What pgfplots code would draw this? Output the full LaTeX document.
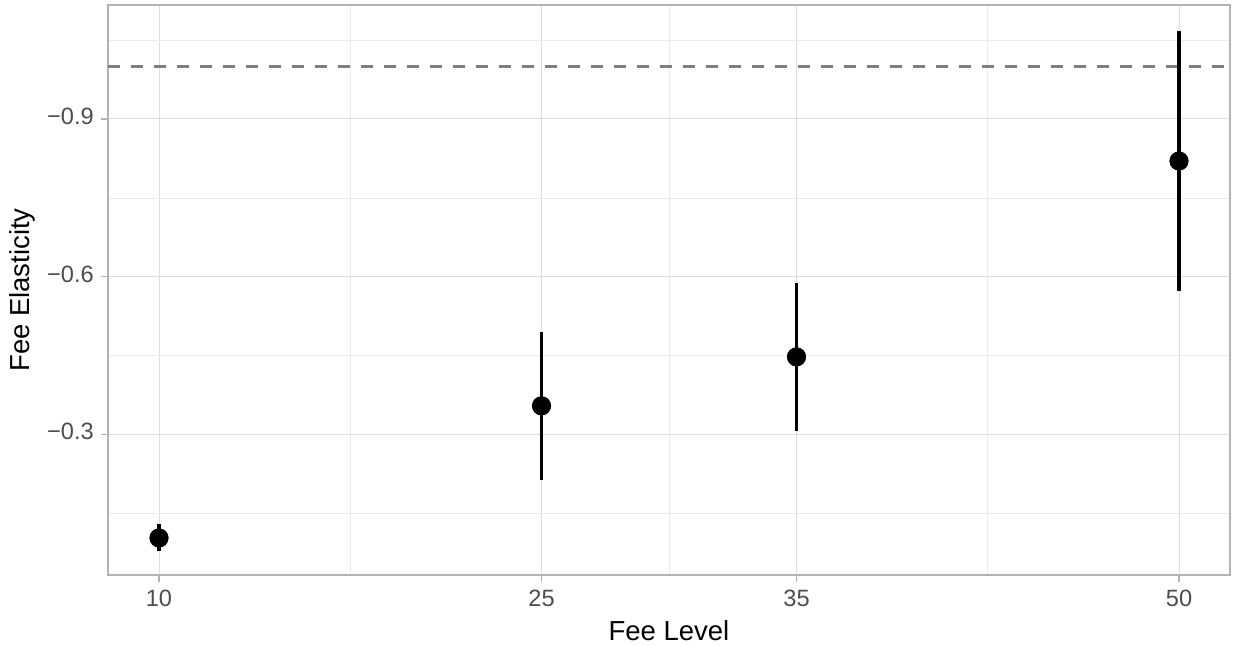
\documentclass[border=0pt]{standalone}
\usepackage{pgfplots}
\pgfplotsset{compat=1.18}
\usepackage{fontspec}
\setmainfont{Liberation Sans}
\definecolor{gridmaj}{HTML}{DEDEDE}
\definecolor{gridmin}{HTML}{EBEBEB}
\definecolor{frame}{HTML}{B3B3B3}
\definecolor{ticklab}{HTML}{4D4D4D}
\definecolor{dashc}{HTML}{7F7F7F}
\begin{document}
\begin{tikzpicture}
\useasboundingbox (-54pt,-35pt) rectangle (563.5pt,287.5pt);
\begin{axis}[
  at={(0,0)}, anchor=south west,
  scale only axis,
  width=561pt, height=285pt,
  xmin=8, xmax=52,
  ymin=-1.1164, ymax=-0.0336,
  y dir=reverse,
  xtick={10,25,35,50},
  xticklabels={10,25,35,50},
  ytick={-0.9,-0.6,-0.3},
  yticklabels={−0.9,−0.6,−0.3},
  minor xtick={17.5,30,42.5},
  minor ytick={-1.05,-0.75,-0.45,-0.15},
  xtick pos=bottom, ytick pos=left,
  grid=both,
  major grid style={draw=gridmaj, line width=0.5pt},
  minor grid style={draw=gridmin, line width=0.35pt},
  axis line style={draw=frame, line width=0.75pt},
  tick align=outside,
  major tick length=3.4pt,
  minor tick length=0pt,
  major tick style={draw=frame, line width=0.6pt},
  ticklabel style={font=\fontsize{11.8}{13}\selectfont, text=ticklab, inner sep=0pt},
  xticklabel style={anchor=north, yshift=-3pt},
  yticklabel style={anchor=east, xshift=-3.5pt},
  typeset ticklabels with strut,
  xlabel={Fee Level},
  ylabel={Fee Elasticity},
  label style={font=\fontsize{13.75}{16}\selectfont},
  xlabel style={at={(axis description cs:0.5,0)}, anchor=center, yshift=-28pt},
  ylabel style={at={(axis description cs:0,0.5)}, anchor=center, yshift=43pt},
  clip=true,
]
\addplot[dashc, line width=1.4pt, dash pattern=on 6pt off 5.5pt, forget plot] coordinates {(8,-1) (52,-1)};
\addplot[black, line width=1.6pt, forget plot] coordinates {(10,-0.131) (10,-0.080)};
\addplot[black, line width=1.6pt, forget plot] coordinates {(25,-0.495) (25,-0.215)};
\addplot[black, line width=1.6pt, forget plot] coordinates {(35,-0.589) (35,-0.307)};
\addplot[black, line width=1.6pt, forget plot] coordinates {(50,-1.067) (50,-0.573)};
\addplot[only marks, mark=*, mark size=4.6pt, mark options={fill=black, draw=black}] coordinates {
(10,-0.104) (25,-0.355) (35,-0.448) (50,-0.820)};
\end{axis}
\end{tikzpicture}
\end{document}
